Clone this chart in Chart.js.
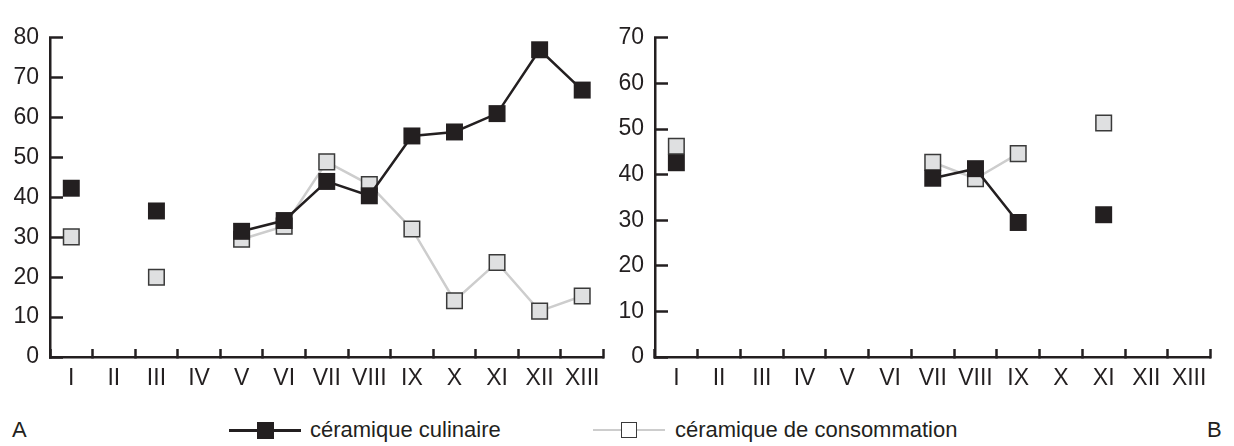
<!DOCTYPE html>
<html>
<head>
<meta charset="utf-8">
<script src="https://cdn.jsdelivr.net/npm/chart.js@4/dist/chart.umd.min.js"></script>
<style>
    body{margin:0;background:#fff;width:1234px;height:446px;overflow:hidden;position:relative;font-family:"Liberation Sans",Arial,sans-serif;color:#231f20}
    .box{position:absolute;top:0}
    .txt{position:absolute;font-size:22px;line-height:22px;white-space:nowrap}
    .line{position:absolute}
    .sq{position:absolute;box-sizing:border-box}
</style>
</head>
<body>
<div class="box" style="left:0;width:616px;height:400px"><canvas id="chartA"></canvas></div>
<div class="box" style="left:605px;width:618px;height:400px"><canvas id="chartB"></canvas></div>

<div class="txt" style="left:12px;top:419px">A</div>
<div class="line" style="left:229px;top:429px;width:72px;height:3px;background:#231f20"></div>
<div class="sq" style="left:257px;top:422px;width:17px;height:17px;background:#231f20"></div>
<div class="txt" style="left:310px;top:419px">céramique culinaire</div>
<div class="line" style="left:593px;top:429px;width:72px;height:2px;background:#cdcdcd"></div>
<div class="sq" style="left:621px;top:422px;width:16px;height:16px;background:#fff;border:1.5px solid #3a3a3a"></div>
<div class="txt" style="left:675px;top:419px">céramique de consommation</div>
<div class="txt" style="left:1207px;top:419px">B</div>

<script>
const categories = ['I','II','III','IV','V','VI','VII','VIII','IX','X','XI','XII','XIII'];

const culinaireA = [42.3, null, 36.6, null, 31.5, 34.2, 44.0, 40.4, 55.4, 56.4, 61.0, 77.0, 66.9];
const consommationA = [30.1, null, 20.0, null, 29.5, 32.8, 48.9, 43.2, 32.1, 14.1, 23.7, 11.5, 15.3];

const culinaireB = [42.6, null, null, null, null, null, 39.2, 41.3, 29.5, null, 31.2, null, null];
const consommationB = [46.2, null, null, null, null, null, 42.7, 39.1, 44.6, null, 51.3, null, null];

const ticksA = [0,10,20,30,40,50,60,70,80];
const ticksB = [0,10,20,30,40,50,60,70];

const ink = '#231f20';
const font = {family:'"Liberation Sans", Arial, sans-serif', size:23};

const makeChart = (id, culinaire, consommation, yTicks, topPad) => {
    const ctx = document.querySelector(id).getContext('2d');
    return new Chart(ctx, {
        type:'line',
        data:{
            labels:categories,
            datasets:[
                {
                    label:'céramique culinaire',
                    data:culinaire,
                    borderColor:ink,
                    borderWidth:2.5,
                    pointStyle:'rect',
                    pointRadius:12,
                    pointBackgroundColor:ink,
                    pointBorderWidth:0,
                    clip:false
                },
                {
                    label:'céramique de consommation',
                    data:consommation,
                    borderColor:'#cdcdcd',
                    borderWidth:2.5,
                    pointStyle:'rect',
                    pointRadius:11,
                    pointBackgroundColor:'#dfe0e1',
                    pointBorderColor:'#3a3a3a',
                    pointBorderWidth:1.5,
                    clip:false
                }
            ]
        },
        options:{
            responsive:true,
            maintainAspectRatio:false,
            animation:false,
            events:[],
            layout:{padding:{top:topPad, right:4, left:0, bottom:0}},
            plugins:{legend:{display:false}, tooltip:{enabled:false}},
            scales:{
                x:{
                    offset:true,
                    grid:{offset:true, drawOnChartArea:false, drawTicks:true, tickLength:-8, tickWidth:2.5, tickColor:ink},
                    border:{color:ink, width:2.5},
                    ticks:{color:ink, font:font, padding:16, autoSkip:false, maxRotation:0, minRotation:0},
                    afterFit:s=>{ s.height = 43; }
                },
                y:{
                    min:0,
                    max:yTicks[yTicks.length-1],
                    afterBuildTicks:s=>{ s.ticks = yTicks.map(v=>({value:v})); },
                    grid:{drawOnChartArea:false, drawTicks:true, tickLength:-13, tickWidth:2.5, tickColor:ink},
                    border:{color:ink, width:2.5},
                    ticks:{color:ink, font:font, padding:24},
                    afterFit:s=>{ s.width = 50; }
                }
            }
        }
    });
};

makeChart('#chartA', culinaireA, consommationA, ticksA, 22);
makeChart('#chartB', culinaireB, consommationB, ticksB, 20);
</script>
</body>
</html>
